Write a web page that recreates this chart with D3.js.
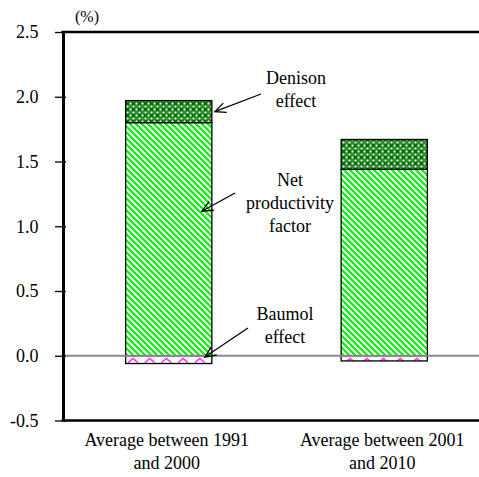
<!DOCTYPE html>
<html>
<head>
<meta charset="utf-8">
<script src="https://cdn.jsdelivr.net/npm/d3@7"></script>
<style>
  body { margin: 0; background: #fff; }
  svg { display: block; }
</style>
</head>
<body>
<svg id="chart" width="479" height="477"></svg>
<script>
// Decomposition of growth (%), two decade averages
const categories = ["Average between 1991 and 2000", "Average between 2001 and 2010"];
const categoryLines = [["Average between 1991", "and 2000"], ["Average between 2001", "and 2010"]];
const netProductivity = [1.80, 1.44];
const denisonEffect = [0.17, 0.23];
const baumolEffect = [-0.06, -0.04];
const yTicks = [-0.5, 0, 0.5, 1.0, 1.5, 2.0, 2.5];
const unitLabel = "(%)";
const calloutTexts = [["Denison", "effect"], ["Net", "productivity", "factor"], ["Baumol", "effect"]];

const FONT = "'Liberation Serif', 'Nimbus Roman', FreeSerif, 'Noto Serif', 'DejaVu Serif', Times, serif";

const svg = d3.select("#chart");
const W = 479;

const y = d3.scaleLinear().domain([-0.5, 2.5]).range([420.5, 32]);
const x = d3.scaleBand().domain(categories).range([61, 492]).paddingInner(0.6).paddingOuter(0.3);

// ---- fill patterns ----
const defs = svg.append("defs");

// bright green downward diagonal stripes
const stripe = defs.append("pattern").attr("id", "pNet")
  .attr("patternUnits", "userSpaceOnUse").attr("width", 6).attr("height", 6);
stripe.append("rect").attr("width", 6).attr("height", 6).attr("fill", "#fff");
stripe.append("path").attr("d", "M-3,3 L3,9 M0,0 L6,6 M3,-3 L9,3")
  .attr("stroke", "#00ff00").attr("stroke-width", 2.6).attr("fill", "none")
  .attr("shape-rendering", "crispEdges");

// dark green checker with white holes
const checker = defs.append("pattern").attr("id", "pDen")
  .attr("patternUnits", "userSpaceOnUse").attr("width", 6).attr("height", 6);
checker.append("rect").attr("width", 6).attr("height", 6).attr("fill", "#007000");
checker.append("rect").attr("x", 3.5).attr("y", 0.5).attr("width", 2).attr("height", 2).attr("fill", "#fff");
checker.append("rect").attr("x", 0.5).attr("y", 3.5).attr("width", 2).attr("height", 2).attr("fill", "#fff");
checker.append("rect").attr("x", 3).attr("y", 3).attr("width", 3).attr("height", 3).attr("fill", "#2f8f2f");

// magenta zigzag
const zig = defs.append("pattern").attr("id", "pBau")
  .attr("patternUnits", "userSpaceOnUse").attr("width", 16.7).attr("height", 8)
  .attr("x", 127).attr("y", y(0));
zig.append("rect").attr("width", 16.7).attr("height", 8).attr("fill", "#fff");
zig.append("path").attr("d", "M1,7 L6,2.5 L11,7")
  .attr("stroke", "#ff00ff").attr("stroke-width", 1.3).attr("fill", "none");

// ---- stacked bars ----
const rows = categories.map((c, i) => ({
  cat: c, net: netProductivity[i], denison: denisonEffect[i], baumol: baumolEffect[i]
}));
const keys = ["net", "denison", "baumol"];
const fills = { net: "url(#pNet)", denison: "url(#pDen)", baumol: "url(#pBau)" };
const stacked = d3.stack().keys(keys).offset(d3.stackOffsetDiverging)(rows);

svg.append("g").selectAll("g").data(stacked).join("g")
  .attr("fill", s => fills[s.key])
  .selectAll("rect").data(s => s).join("rect")
  .attr("x", d => x(d.data.cat))
  .attr("width", x.bandwidth())
  .attr("y", d => y(Math.max(d[0], d[1])))
  .attr("height", d => Math.abs(y(d[0]) - y(d[1])))
  .attr("stroke", "#000").attr("stroke-width", 1.3);

// ---- zero line ----
svg.append("line")
  .attr("x1", 63).attr("x2", W).attr("y1", y(0)).attr("y2", y(0))
  .attr("stroke", "#888").attr("stroke-width", 2);

// ---- frame lines ----
[y(2.5), y(-0.5)].forEach(v => {
  svg.append("line").attr("x1", 61.5).attr("x2", W).attr("y1", v).attr("y2", v)
    .attr("stroke", "#000").attr("stroke-width", 2.5);
});

// ---- y axis ----
const yAxis = svg.append("g").attr("transform", "translate(63,0)")
  .call(d3.axisLeft(y).tickValues(yTicks).tickFormat(d => d.toFixed(1))
    .tickSizeInner(8).tickSizeOuter(0).tickPadding(16.5));
yAxis.attr("font-family", FONT);
yAxis.select(".domain").attr("stroke", "#000").attr("stroke-width", 3);
yAxis.selectAll(".tick line").attr("x1", 3).attr("stroke", "#000").attr("stroke-width", 1.3);
yAxis.selectAll(".tick text").attr("font-size", 18).attr("fill", "#000").style("font-family", FONT);

svg.append("text").attr("x", 87).attr("y", 22).attr("text-anchor", "middle")
  .style("font-family", FONT).attr("font-size", 16).text(unitLabel);

// ---- category labels ----
const catG = svg.append("g").selectAll("text").data(categories).join("text")
  .attr("text-anchor", "middle").attr("font-size", 18).style("font-family", FONT)
  .attr("x", d => x(d) + x.bandwidth() / 2 - 2);
catG.each(function (d, i) {
  const t = d3.select(this);
  categoryLines[i].forEach((ln, j) => {
    t.append("tspan").attr("x", t.attr("x")).attr("y", 446 + j * 23).text(ln);
  });
});

// ---- callouts with open arrowheads ----
const b1 = categories[0];
const callouts = [
  { lines: calloutTexts[0], cx: 296, top: 84, from: [261, 94],
    to: [x(b1) + x.bandwidth() + 3, y(netProductivity[0] + denisonEffect[0] / 2)] },
  { lines: calloutTexts[1], cx: 290, top: 186, from: [235, 193],
    to: [x(b1) + x.bandwidth() - 10, y(netProductivity[0] * 0.62)] },
  { lines: calloutTexts[2], cx: 285, top: 320, from: [248, 328],
    to: [x(b1) + x.bandwidth() - 7, y(baumolEffect[0] / 6)] }
];

callouts.forEach(c => {
  const t = svg.append("text").attr("text-anchor", "middle").attr("font-size", 18)
    .style("font-family", FONT);
  c.lines.forEach((ln, j) => t.append("tspan").attr("x", c.cx).attr("y", c.top + j * 23).text(ln));
  const [x0, y0] = c.from, [x1, y1] = c.to;
  const a = Math.atan2(y0 - y1, x0 - x1);
  const L = 12, s = 0.42;
  const w1 = [x1 + L * Math.cos(a + s), y1 + L * Math.sin(a + s)];
  const w2 = [x1 + L * Math.cos(a - s), y1 + L * Math.sin(a - s)];
  svg.append("path")
    .attr("d", `M${x0},${y0} L${x1},${y1} M${w1[0]},${w1[1]} L${x1},${y1} L${w2[0]},${w2[1]}`)
    .attr("stroke", "#000").attr("stroke-width", 1.3).attr("fill", "none");
});
</script>
</body>
</html>
